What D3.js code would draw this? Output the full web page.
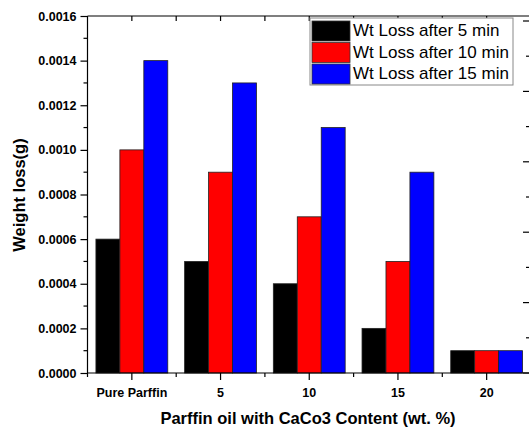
<!DOCTYPE html>
<html>
<head>
<meta charset="utf-8">
<script src="https://cdn.jsdelivr.net/npm/d3@7"></script>
<style>
  body { margin: 0; background: #fff; }
  svg { display: block; font-family: "Liberation Sans", Arial, sans-serif; }
</style>
</head>
<body>
<div id="chart"></div>
<script>
// data
const categories = ["Pure Parffin", "5", "10", "15", "20"];
const seriesNames = ["Wt Loss after 5 min", "Wt Loss after 10 min", "Wt Loss after 15 min"];
const loss5 = [0.0006, 0.0005, 0.0004, 0.0002, 0.0001];
const loss10 = [0.0010, 0.0009, 0.0007, 0.0005, 0.0001];
const loss15 = [0.0014, 0.0013, 0.0011, 0.0009, 0.0001];
const yTicks = [0, 0.0002, 0.0004, 0.0006, 0.0008, 0.0010, 0.0012, 0.0014, 0.0016];
const colors = ["#000000", "#ff0000", "#0000ff"];

const W = 529, H = 430;
const margin = { top: 16, right: -2, bottom: 57, left: 87.5 };
const width = W - margin.left - margin.right;
const height = H - margin.top - margin.bottom;

const svg = d3.select("#chart")
    .append("svg")
    .attr("width", W)
    .attr("height", H);

const g = svg.append("g")
    .attr("transform", `translate(${margin.left},${margin.top})`);

// scales
const x = d3.scaleBand()
    .domain(categories)
    .range([0, width])
    .paddingInner(0.19)
    .paddingOuter(0.095);

const xSub = d3.scaleBand()
    .domain(seriesNames)
    .range([0, x.bandwidth()]);

const y = d3.scaleLinear().domain([0, 0.0016]).range([height, 0]);

// right axis has its own (cut-off) scale
const yRight = d3.scaleLinear().domain([0, 5]).range([height, 5]);

const rows = categories.map((c, i) => ({ cat: c, vals: [loss5[i], loss10[i], loss15[i]] }));

// bars
const groups = g.selectAll(".grp")
    .data(rows)
    .enter().append("g")
    .attr("class", "grp")
    .attr("transform", d => `translate(${x(d.cat)},0)`);

groups.selectAll("rect")
    .data(d => d.vals.map((v, j) => ({ name: seriesNames[j], v, j })))
    .enter().append("rect")
    .attr("x", d => xSub(d.name))
    .attr("width", xSub.bandwidth())
    .attr("y", d => y(d.v))
    .attr("height", d => height - y(d.v))
    .attr("fill", d => colors[d.j])
    .attr("stroke", "#222")
    .attr("stroke-width", 0.8);

// frame lines
const frame = g.append("g").attr("stroke", "#000").attr("stroke-width", 1.2);
frame.append("line").attr("x1", 0).attr("x2", 0).attr("y1", 0).attr("y2", height);
frame.append("line").attr("x1", 0).attr("x2", width).attr("y1", 0).attr("y2", 0);
frame.append("line").attr("x1", 0).attr("x2", width).attr("y1", height).attr("y2", height);
frame.append("line").attr("x1", width).attr("x2", width).attr("y1", 0).attr("y2", height);

// left axis
const yAxis = g.append("g")
    .call(d3.axisLeft(y).tickValues(yTicks).tickFormat(d3.format(".4f")).tickSize(7).tickPadding(4));
yAxis.select(".domain").remove();
yAxis.selectAll("line").attr("stroke-width", 1.2);
yAxis.selectAll("text")
    .attr("font-family", "Liberation Sans, Arial, sans-serif")
    .attr("font-weight", "bold")
    .attr("font-size", 12.5)
    .attr("fill", "#000");

// left minor ticks
const yMinor = d3.range(yTicks.length - 1).map(i => (yTicks[i] + yTicks[i + 1]) / 2);
g.append("g").selectAll("line")
    .data(yMinor)
    .enter().append("line")
    .attr("x1", -4).attr("x2", 0)
    .attr("y1", d => y(d)).attr("y2", d => y(d))
    .attr("stroke", "#000").attr("stroke-width", 1.2);

// bottom axis
const xAxis = g.append("g")
    .attr("transform", `translate(0,${height})`)
    .call(d3.axisBottom(x).tickSize(7).tickPadding(8));
xAxis.select(".domain").remove();
xAxis.selectAll("line").attr("stroke-width", 1.2);
xAxis.selectAll("text")
    .attr("font-family", "Liberation Sans, Arial, sans-serif")
    .attr("font-weight", "bold")
    .attr("font-size", 12.5)
    .attr("fill", "#000");

// minor ticks at category borders (bottom outward, top inward)
const borders = d3.range(categories.length).map(i => i * x.step());
g.append("g").selectAll("line")
    .data(borders)
    .enter().append("line")
    .attr("x1", d => d).attr("x2", d => d)
    .attr("y1", height).attr("y2", height + 4)
    .attr("stroke", "#000").attr("stroke-width", 1.2);

const topTicks = categories.map(c => x(c) + x.bandwidth() / 2).concat(borders.slice(1));
g.append("g").selectAll("line")
    .data(topTicks)
    .enter().append("line")
    .attr("x1", d => d).attr("x2", d => d)
    .attr("y1", 0).attr("y2", 5)
    .attr("stroke", "#000").attr("stroke-width", 1.2);

// right axis ticks, inward
const rMajor = d3.range(0, 6);
const rMinor = d3.range(0, 5).map(d => d + 0.5);
g.append("g").selectAll("line")
    .data(rMajor)
    .enter().append("line")
    .attr("x1", width - 8).attr("x2", width)
    .attr("y1", d => yRight(d)).attr("y2", d => yRight(d))
    .attr("stroke", "#000").attr("stroke-width", 1.2);
g.append("g").selectAll("line")
    .data(rMinor)
    .enter().append("line")
    .attr("x1", width - 5).attr("x2", width)
    .attr("y1", d => yRight(d)).attr("y2", d => yRight(d))
    .attr("stroke", "#000").attr("stroke-width", 1.2);

// axis titles
svg.append("text")
    .attr("x", 308)
    .attr("y", 424)
    .attr("text-anchor", "middle")
    .attr("font-weight", "bold")
    .attr("font-size", 16.5)
    .text("Parffin oil with CaCo3 Content (wt. %)");

svg.append("text")
    .attr("transform", "translate(25,195) rotate(-90)")
    .attr("text-anchor", "middle")
    .attr("font-weight", "bold")
    .attr("font-size", 16.5)
    .text("Weight loss(g)");

// legend
const legend = svg.append("g").attr("transform", "translate(310,18)");
legend.append("rect")
    .attr("width", 203).attr("height", 67)
    .attr("fill", "#fff").attr("stroke", "#888").attr("stroke-width", 1);

const items = legend.selectAll(".item")
    .data(seriesNames)
    .enter().append("g")
    .attr("class", "item")
    .attr("transform", (d, i) => `translate(2,${3 + i * 21.5})`);

items.append("rect")
    .attr("width", 38).attr("height", 20)
    .attr("fill", (d, i) => colors[i])
    .attr("stroke", "#333").attr("stroke-width", 0.8);

items.append("text")
    .attr("x", 41)
    .attr("y", 15)
    .attr("font-size", 17)
    .attr("fill", "#000")
    .text(d => d);
</script>
</body>
</html>
